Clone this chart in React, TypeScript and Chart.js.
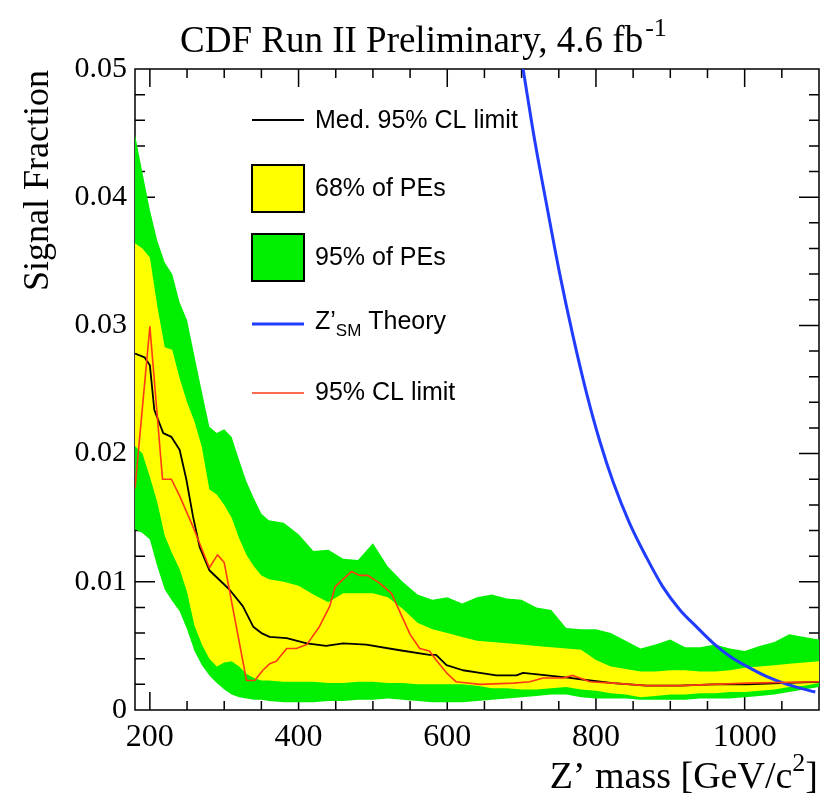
import React, { useEffect, useRef } from "react";
import { Chart, registerables } from "chart.js";

Chart.register(...registerables);

// ---------- data ----------
const bandMass = [
  180, 190, 200, 210, 220, 230, 240, 250, 260, 270, 280, 290, 300, 310, 320, 330, 340, 350, 360,
  380, 400, 420, 440, 460, 480, 500, 520, 540, 560, 580, 600, 620, 640, 660, 680, 700, 720, 740,
  760, 780, 800, 820, 840, 860, 880, 900, 920, 940, 960, 980, 1000, 1020, 1040, 1060, 1080, 1100,
];
const green95Upper = [
  0.0449, 0.0419, 0.039, 0.0366, 0.0349, 0.034, 0.0318, 0.0304, 0.0276, 0.0248, 0.0221, 0.0216,
  0.0219, 0.0213, 0.0195, 0.0178, 0.0165, 0.0153, 0.0148, 0.0146, 0.0137, 0.0124, 0.0125, 0.0118,
  0.0117, 0.013, 0.0112, 0.01, 0.009, 0.0086, 0.0088, 0.0083, 0.0088, 0.009, 0.0087, 0.0086, 0.008,
  0.0078, 0.0064, 0.0063, 0.0063, 0.006, 0.0054, 0.0048, 0.0051, 0.0055, 0.0049, 0.0049, 0.0051,
  0.0048, 0.0046, 0.005, 0.0053, 0.0059, 0.0057, 0.0055,
];
const yellow68Upper = [
  0.0364, 0.036, 0.0353, 0.0315, 0.0283, 0.0281, 0.0259, 0.024, 0.0225, 0.0205, 0.0172, 0.0168,
  0.016, 0.015, 0.0134, 0.0121, 0.0112, 0.0105, 0.0102, 0.01, 0.0097, 0.009, 0.0084, 0.0091, 0.0091,
  0.0091, 0.0088, 0.0079, 0.0068, 0.0063, 0.006, 0.0057, 0.0054, 0.0053, 0.0052, 0.0051, 0.005,
  0.0049, 0.0048, 0.0047, 0.0039, 0.0034, 0.0032, 0.003, 0.003, 0.0031, 0.0031, 0.003, 0.003,
  0.0031, 0.0033, 0.0034, 0.0035, 0.0036, 0.0037, 0.0038,
];
const yellow68Lower = [
  0.0206, 0.02, 0.0182, 0.0162, 0.0136, 0.0122, 0.011, 0.0092, 0.0066, 0.0051, 0.004, 0.0034,
  0.0037, 0.0038, 0.0034, 0.0028, 0.0025, 0.0023, 0.0023, 0.0022, 0.0022, 0.0022, 0.0021, 0.0021,
  0.0022, 0.0022, 0.0021, 0.0021, 0.002, 0.002, 0.002, 0.002, 0.0019, 0.0017, 0.0017, 0.0016,
  0.0016, 0.0017, 0.0018, 0.0016, 0.0015, 0.0013, 0.0012, 0.001, 0.0011, 0.0012, 0.0012, 0.0013,
  0.0013, 0.0014, 0.0014, 0.0015, 0.0016, 0.0018, 0.0019, 0.0021,
];
const green95Lower = [
  0.0141, 0.0138, 0.0133, 0.0112, 0.0094, 0.0085, 0.0077, 0.0063, 0.0046, 0.0035, 0.0027, 0.0021,
  0.0016, 0.0012, 0.001, 0.0009, 0.0008, 0.0008, 0.0007, 0.0006, 0.0006, 0.0006, 0.0007, 0.0007,
  0.0008, 0.0008, 0.0009, 0.0008, 0.0007, 0.0006, 0.0006, 0.0006, 0.0007, 0.0008, 0.0009, 0.001,
  0.0011, 0.0012, 0.0012, 0.001, 0.0009, 0.0009, 0.0009, 0.0008, 0.0008, 0.0008, 0.0008, 0.0009,
  0.0009, 0.0009, 0.001, 0.0011, 0.0012, 0.0014, 0.0016, 0.0018,
];

const medianMass = [
  180, 193, 200, 206, 212, 218, 229, 240, 249, 258, 267, 280, 307, 325, 339, 350, 361, 384, 411,
  437, 460, 491, 532, 576, 585, 599, 621, 644, 666, 693, 702, 734, 765, 792, 823, 868, 913, 958,
  1003, 1048, 1100,
];
const medianLimit = [
  0.0278, 0.0275, 0.0269, 0.0234, 0.0225, 0.0216, 0.0213, 0.0203, 0.018, 0.0151, 0.0127, 0.0109,
  0.0094, 0.0081, 0.0065, 0.006, 0.0057, 0.0056, 0.0052, 0.005, 0.0052, 0.0051, 0.0047, 0.0043,
  0.0043, 0.0035, 0.0031, 0.0029, 0.0027, 0.0027, 0.0029, 0.0027, 0.0025, 0.0023, 0.0021, 0.0019,
  0.0019, 0.002, 0.002, 0.0021, 0.0022,
];

const observedMass = [
  180, 200, 217, 229, 240, 258, 280, 291, 300, 330, 341, 352, 361, 370, 384, 397, 411, 428, 442,
  449, 471, 482, 493, 509, 525, 550, 563, 576, 585, 599, 612, 644, 689, 711, 729, 756, 769, 792,
  823, 868, 913, 1003, 1100,
];
const observedLimit = [
  0.0173, 0.0299, 0.018, 0.018, 0.0167, 0.0143, 0.0111, 0.0121, 0.0115, 0.0023, 0.0023, 0.0031,
  0.0036, 0.0038, 0.0048, 0.0048, 0.0051, 0.0065, 0.0081, 0.0096, 0.0108, 0.0105, 0.0105, 0.0099,
  0.0091, 0.0059, 0.0048, 0.0046, 0.0039, 0.0029, 0.0022, 0.002, 0.0021, 0.0022, 0.0025, 0.0025,
  0.0027, 0.0022, 0.0021, 0.0019, 0.0019, 0.0021, 0.0022,
];

const theoryMass = [
  695, 702, 718, 734, 751, 769, 787, 805, 823, 845, 868, 890, 913, 935, 958, 980, 1003, 1030, 1057, 1095,
];
const theoryValue = [
  0.0525, 0.05, 0.0443, 0.0393, 0.0341, 0.0292, 0.0248, 0.021, 0.0178, 0.0146, 0.0119, 0.0096,
  0.0078, 0.0065, 0.0052, 0.0042, 0.0034, 0.0026, 0.002, 0.0014,
];

const xTickValues = [200, 400, 600, 800, 1000];
const yTickValues = [0, 0.01, 0.02, 0.03, 0.04, 0.05];
const yTickLabels = ["0", "0.01", "0.02", "0.03", "0.04", "0.05"];

const titleText = "CDF Run II Preliminary, 4.6 fb";
const titleSup = "-1";
const yTitle = "Signal Fraction";
const xTitleMain = "Z\u2019 mass [GeV/c";
const xTitleSup = "2";
const xTitleEnd = "]";
const legendLabels = ["Med. 95% CL limit", "68% of PEs", "95% of PEs", "Theory", "95% CL limit"];

// ---------- styles ----------
const GREEN = "#00ee00";
const YELLOW = "#ffff00";
const BLUE = "#1f3cff";
const RED = "#ff3a14";
const SERIF = '"Liberation Serif", "Times New Roman", serif';
const SANS = '"Liberation Sans", Arial, sans-serif';

const pts = (xs: number[], ys: number[]) => xs.map((x, i) => ({ x, y: ys[i] }));

const rootStyle = {
  id: "rootStyle",
  beforeDatasetsDraw(chart: any) {
    const { ctx, chartArea: a, scales } = chart;
    const xs = scales.x;
    const ys = scales.y;
    ctx.save();
    ctx.strokeStyle = "#000";
    ctx.lineWidth = 1.5;
    ctx.strokeRect(a.left, a.top, a.right - a.left, a.bottom - a.top);
    ctx.beginPath();
    for (let m = 200; m < 1100; m += 50) {
      const px = xs.getPixelForValue(m);
      const L = m % 200 === 0 ? 18 : 9;
      ctx.moveTo(px, a.bottom);
      ctx.lineTo(px, a.bottom - L);
      ctx.moveTo(px, a.top);
      ctx.lineTo(px, a.top + L);
    }
    for (let i = 1; i < 25; i++) {
      const py = ys.getPixelForValue(i * 0.002);
      const L = i % 5 === 0 ? 20 : 10;
      ctx.moveTo(a.left, py);
      ctx.lineTo(a.left + L, py);
      ctx.moveTo(a.right, py);
      ctx.lineTo(a.right - L, py);
    }
    ctx.stroke();
    ctx.restore();
  },
  afterDraw(chart: any) {
    const { ctx } = chart;
    ctx.save();
    ctx.fillStyle = "#000";
    // title
    ctx.font = `37px ${SERIF}`;
    ctx.textBaseline = "alphabetic";
    ctx.textAlign = "left";
    const tx = 180;
    const ty = 52;
    ctx.fillText(titleText, tx, ty);
    const tw = ctx.measureText(titleText).width;
    ctx.font = `26px ${SERIF}`;
    ctx.fillText(titleSup, tx + tw + 2, ty - 16);

    // y title
    ctx.save();
    ctx.translate(48, 70);
    ctx.rotate(-Math.PI / 2);
    ctx.font = `36px ${SERIF}`;
    ctx.textAlign = "right";
    ctx.fillText(yTitle, 0, 0);
    ctx.restore();

    // x title
    ctx.textAlign = "right";
    ctx.font = `38px ${SERIF}`;
    const xr = 818;
    const xb = 788;
    ctx.fillText(xTitleEnd, xr, xb);
    const wEnd = ctx.measureText(xTitleEnd).width;
    ctx.font = `26px ${SERIF}`;
    ctx.fillText(xTitleSup, xr - wEnd, xb - 17);
    const wSup = ctx.measureText(xTitleSup).width;
    ctx.font = `38px ${SERIF}`;
    ctx.fillText(xTitleMain, xr - wEnd - wSup, xb);

    // legend
    const lx0 = 252;
    const lx1 = 304;
    const textX = 315;
    ctx.textAlign = "left";
    ctx.textBaseline = "middle";
    ctx.font = `25px ${SANS}`;
    // median
    ctx.strokeStyle = "#000";
    ctx.lineWidth = 2;
    ctx.beginPath();
    ctx.moveTo(lx0, 120);
    ctx.lineTo(lx1, 120);
    ctx.stroke();
    ctx.fillText(legendLabels[0], textX, 121);
    // 68%
    ctx.fillStyle = YELLOW;
    ctx.fillRect(lx0, 165, lx1 - lx0, 47);
    ctx.strokeRect(lx0, 165, lx1 - lx0, 47);
    ctx.fillStyle = "#000";
    ctx.fillText(legendLabels[1], textX, 189);
    // 95%
    ctx.fillStyle = GREEN;
    ctx.fillRect(lx0, 234, lx1 - lx0, 47);
    ctx.strokeRect(lx0, 234, lx1 - lx0, 47);
    ctx.fillStyle = "#000";
    ctx.fillText(legendLabels[2], textX, 258);
    // theory
    ctx.strokeStyle = BLUE;
    ctx.lineWidth = 3;
    ctx.beginPath();
    ctx.moveTo(lx0, 324);
    ctx.lineTo(lx1, 324);
    ctx.stroke();
    ctx.fillText("Z\u2019", textX, 322);
    const wz = ctx.measureText("Z\u2019").width;
    ctx.font = `17px ${SANS}`;
    ctx.fillText("SM", textX + wz, 331);
    const wsm = ctx.measureText("SM").width;
    ctx.font = `25px ${SANS}`;
    ctx.fillText(" " + legendLabels[3], textX + wz + wsm, 322);
    // observed
    ctx.strokeStyle = RED;
    ctx.lineWidth = 1.5;
    ctx.beginPath();
    ctx.moveTo(lx0, 393);
    ctx.lineTo(lx1, 393);
    ctx.stroke();
    ctx.fillText(legendLabels[4], textX, 393);
    ctx.restore();
  },
};

export default function App() {
  const ref = useRef<HTMLCanvasElement | null>(null);
  useEffect(() => {
    if (!ref.current) return;
    const base = { pointRadius: 0, tension: 0, borderJoinStyle: "round" as const };
    const chart = new Chart(ref.current, {
      type: "line",
      data: {
        datasets: [
          { ...base, label: "95% CL limit", data: pts(observedMass, observedLimit), borderColor: RED, borderWidth: 1.6, fill: false, order: 0 },
          { ...base, label: "Z'SM Theory", data: pts(theoryMass, theoryValue), borderColor: BLUE, borderWidth: 3, fill: false, order: 1, cubicInterpolationMode: "monotone" },
          { ...base, label: "Med. 95% CL limit", data: pts(medianMass, medianLimit), borderColor: "#000", borderWidth: 1.8, fill: false, order: 2 },
          { ...base, label: "68% up", data: pts(bandMass, yellow68Upper), borderColor: "rgba(0,0,0,0)", borderWidth: 0, backgroundColor: YELLOW, fill: 4, order: 3 },
          { ...base, label: "68% low", data: pts(bandMass, yellow68Lower), borderColor: "rgba(0,0,0,0)", borderWidth: 0, fill: false, order: 4 },
          { ...base, label: "95% up", data: pts(bandMass, green95Upper), borderColor: "rgba(0,0,0,0)", borderWidth: 0, backgroundColor: GREEN, fill: 6, order: 5 },
          { ...base, label: "95% low", data: pts(bandMass, green95Lower), borderColor: "rgba(0,0,0,0)", borderWidth: 0, fill: false, order: 6 },
        ],
      },
      options: {
        animation: false,
        responsive: false,
        devicePixelRatio: 1,
        layout: { padding: { top: 69, right: 9, left: 0, bottom: 0 } },
        plugins: { legend: { display: false }, tooltip: { enabled: false }, title: { display: false } },
        scales: {
          x: {
            type: "linear",
            min: 180,
            max: 1100,
            grid: { display: false, drawTicks: false },
            border: { display: false },
            afterBuildTicks: (s: any) => {
              s.ticks = xTickValues.map((v) => ({ value: v }));
            },
            afterFit: (s: any) => {
              s.height = 92;
            },
            ticks: {
              font: { family: SERIF, size: 32 },
              color: "#000",
              padding: 8,
              maxRotation: 0,
              autoSkip: false,
              callback: (v: any) => String(v),
            },
          },
          y: {
            type: "linear",
            min: 0,
            max: 0.05,
            grid: { display: false, drawTicks: false },
            border: { display: false },
            afterBuildTicks: (s: any) => {
              s.ticks = yTickValues.map((v) => ({ value: v }));
            },
            afterFit: (s: any) => {
              s.width = 135;
            },
            ticks: {
              font: { family: SERIF, size: 30 },
              color: "#000",
              padding: 8,
              autoSkip: false,
              callback: (v: any) => {
                const i = yTickValues.indexOf(Number(v));
                return i >= 0 ? yTickLabels[i] : "";
              },
            },
          },
        },
      },
      plugins: [rootStyle],
    });
    return () => chart.destroy();
  }, []);
  return (
    <div style={{ position: "fixed", left: 0, top: 0, width: 828, height: 802, background: "#fff" }}>
      <canvas ref={ref} width={828} height={802} style={{ display: "block" }} />
    </div>
  );
}
